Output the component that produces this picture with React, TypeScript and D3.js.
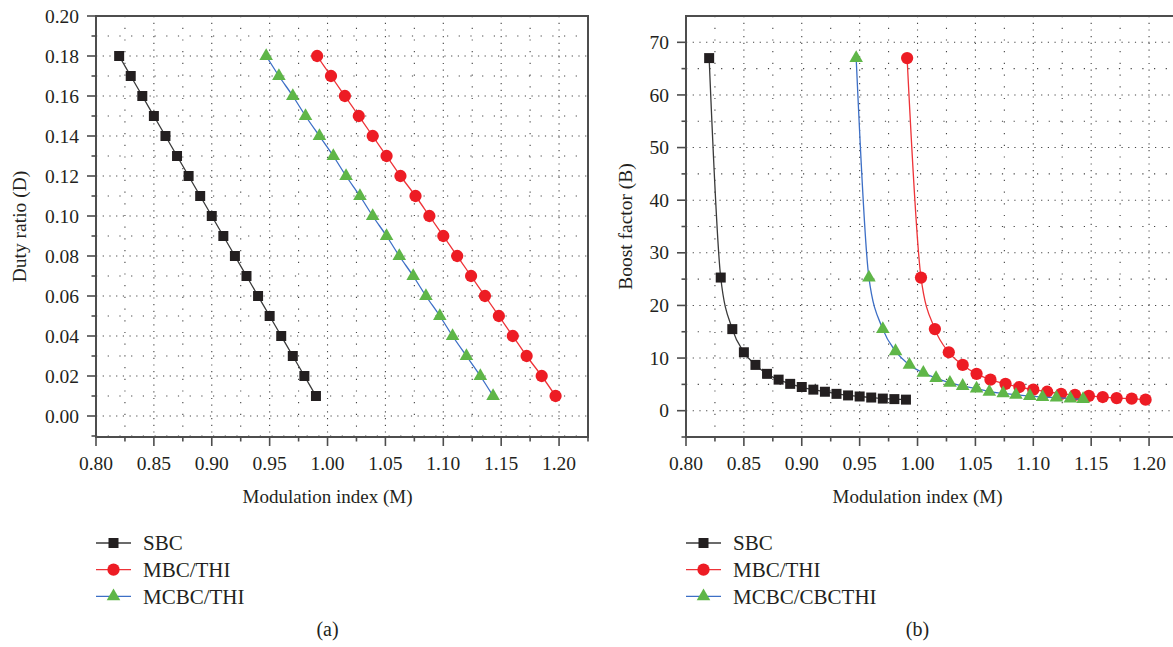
import { useEffect, useRef } from 'react'
import * as d3 from 'd3'

// values
const dutyRatio = [0.18, 0.17, 0.16, 0.15, 0.14, 0.13, 0.12, 0.11, 0.10, 0.09, 0.08, 0.07, 0.06, 0.05, 0.04, 0.03, 0.02, 0.01]
const modSBC = [0.82, 0.83, 0.84, 0.85, 0.86, 0.87, 0.88, 0.89, 0.90, 0.91, 0.92, 0.93, 0.94, 0.95, 0.96, 0.97, 0.98, 0.99]
const modMBC = [0.991, 1.003, 1.015, 1.027, 1.039, 1.051, 1.063, 1.076, 1.088, 1.100, 1.112, 1.124, 1.136, 1.148, 1.160, 1.172, 1.185, 1.197]
const modMCBC = [0.947, 0.958, 0.970, 0.981, 0.993, 1.005, 1.016, 1.028, 1.039, 1.051, 1.062, 1.074, 1.085, 1.097, 1.108, 1.120, 1.132, 1.143]

const boostSBC = [67, 25.3, 15.5, 11.1, 8.7, 7.0, 5.9, 5.1, 4.5, 4.0, 3.6, 3.2, 2.9, 2.7, 2.5, 2.3, 2.2, 2.1]
const boostMBC = [67, 25.3, 15.5, 11.1, 8.7, 7.0, 5.9, 5.1, 4.5, 4.0, 3.6, 3.2, 3.0, 2.8, 2.6, 2.4, 2.3, 2.1]
const boostMCBC = [67, 25.3, 15.5, 11.3, 8.7, 7.2, 6.2, 5.3, 4.7, 4.2, 3.6, 3.3, 3.0, 2.8, 2.6, 2.5, 2.3, 2.2]

const xTicks = [0.80, 0.85, 0.90, 0.95, 1.00, 1.05, 1.10, 1.15, 1.20]
const dutyTicks = [0.00, 0.02, 0.04, 0.06, 0.08, 0.10, 0.12, 0.14, 0.16, 0.18, 0.20]
const boostTicks = [0, 10, 20, 30, 40, 50, 60, 70]

const legendA = ['SBC', 'MBC/THI', 'MCBC/THI']
const legendB = ['SBC', 'MBC/THI', 'MCBC/CBCTHI']

const FONT = "'Liberation Serif', 'Times New Roman', serif"
const INK = '#231f20'
const AXIS = '#4d4d4d'

const styles = [
  { line: '#3a3a3a', fill: '#231f20', symbol: d3.symbolSquare, size: 100 },
  { line: '#ee3338', fill: '#ed1c24', symbol: d3.symbolCircle, size: 118 },
  { line: '#3d6fc6', fill: '#5fb648', symbol: d3.symbolTriangle, size: 80 },
]

function drawPanel(root, p) {
  const top = 16, bottom = 437
  const x = d3.scaleLinear().domain([0.8, 1.225]).range([p.x0, p.x1])
  const y = d3.scaleLinear().domain(p.yDomain).range([bottom, top])
  const g = root.append('g')

  // dotted grid: major lines dense, minor lines sparse
  const xMinor = xTicks.map(v => v + 0.025)
  const grid = g.append('g').attr('stroke', '#444').attr('stroke-width', 1.1)
  xTicks.slice(1).forEach(v => grid.append('line').attr('x1', x(v)).attr('x2', x(v)).attr('y1', top).attr('y2', bottom).attr('stroke-dasharray', '1.2 5.5'))
  xMinor.forEach(v => grid.append('line').attr('x1', x(v)).attr('x2', x(v)).attr('y1', top).attr('y2', bottom).attr('stroke-dasharray', '1.2 10.5'))
  p.yTicks.forEach(v => grid.append('line').attr('x1', p.x0).attr('x2', p.x1).attr('y1', y(v)).attr('y2', y(v)).attr('stroke-dasharray', '1.2 5.5'))
  p.yMinor.filter(v => v > p.yDomain[0] + 1e-9).forEach(v => grid.append('line').attr('x1', p.x0).attr('x2', p.x1).attr('y1', y(v)).attr('y2', y(v)).attr('stroke-dasharray', '1.2 10.5'))

  // series
  const line = d3.line().x(d => x(d[0])).y(d => y(d[1])).curve(d3.curveMonotoneX)
  p.series.forEach((s, i) => {
    const st = styles[i]
    const pts = s.xs.map((v, j) => [v, s.ys[j]])
    g.append('path').attr('d', line(pts)).attr('fill', 'none').attr('stroke', st.line).attr('stroke-width', 1.3)
    g.append('g').selectAll('path').data(pts).join('path')
      .attr('d', d3.symbol().type(st.symbol).size(st.size))
      .attr('transform', d => `translate(${x(d[0])},${y(d[1])})`)
      .attr('fill', st.fill)
  })

  // frame
  g.append('rect').attr('x', p.x0).attr('y', top).attr('width', p.x1 - p.x0).attr('height', bottom - top)
    .attr('fill', 'none').attr('stroke', AXIS).attr('stroke-width', 2)

  // ticks
  const tk = g.append('g').attr('stroke', AXIS).attr('stroke-width', 1.6)
  xTicks.forEach(v => tk.append('line').attr('x1', x(v)).attr('x2', x(v)).attr('y1', bottom).attr('y2', bottom + 9))
  xMinor.forEach(v => tk.append('line').attr('x1', x(v)).attr('x2', x(v)).attr('y1', bottom).attr('y2', bottom + 4.5))
  p.yTicks.forEach(v => tk.append('line').attr('x1', p.x0).attr('x2', p.x0 - 9).attr('y1', y(v)).attr('y2', y(v)))
  p.yMinor.forEach(v => tk.append('line').attr('x1', p.x0).attr('x2', p.x0 - 4.5).attr('y1', y(v)).attr('y2', y(v)))

  const txt = g.append('g').attr('font-family', FONT).attr('fill', INK)
  xTicks.forEach(v => txt.append('text').attr('x', x(v)).attr('y', 469.5).attr('text-anchor', 'middle')
    .attr('font-size', 19.5).text(d3.format('.2f')(v)))
  p.yTicks.forEach(v => txt.append('text').attr('x', p.x0 - 17).attr('y', y(v)).attr('dy', '0.34em').attr('text-anchor', 'end')
    .attr('font-size', 19.5).text(p.fmt(v)))

  const cx = (x(0.8) + x(1.2)) / 2
  txt.append('text').attr('x', cx).attr('y', 502.5).attr('text-anchor', 'middle').attr('font-size', 19).text('Modulation index (M)')
  txt.append('text').attr('transform', `translate(${p.titleX},${(top + bottom) / 2}) rotate(-90)`)
    .attr('text-anchor', 'middle').attr('font-size', 19.5).text(p.yTitle)
  txt.append('text').attr('x', cx).attr('y', 636).attr('text-anchor', 'middle').attr('font-size', 20).text(p.tag)

  // legend
  p.legend.forEach((name, i) => {
    const st = styles[i]
    const ly = 543 + i * 26.7
    g.append('line').attr('x1', p.x0).attr('x2', p.x0 + 35).attr('y1', ly).attr('y2', ly).attr('stroke', st.line).attr('stroke-width', 1.3)
    g.append('path').attr('d', d3.symbol().type(st.symbol).size(st.size)()).attr('transform', `translate(${p.x0 + 17.5},${ly})`).attr('fill', st.fill)
    txt.append('text').attr('x', p.x0 + 47).attr('y', ly).attr('dy', '0.34em').attr('font-size', 21).text(name)
  })
}

export default function App() {
  const ref = useRef(null)

  useEffect(() => {
    const svg = d3.select(ref.current)
    svg.selectAll('*').remove()

    drawPanel(svg, {
      x0: 96, x1: 588,
      yDomain: [-0.0105, 0.2],
      yTicks: dutyTicks,
      yMinor: [-0.01, 0.01, 0.03, 0.05, 0.07, 0.09, 0.11, 0.13, 0.15, 0.17, 0.19],
      fmt: d3.format('.2f'),
      yTitle: 'Duty ratio (D)',
      titleX: 26,
      tag: '(a)',
      legend: legendA,
      series: [
        { xs: modSBC, ys: dutyRatio },
        { xs: modMBC, ys: dutyRatio },
        { xs: modMCBC, ys: dutyRatio },
      ],
    })

    drawPanel(svg, {
      x0: 686, x1: 1178,
      yDomain: [-5, 75],
      yTicks: boostTicks,
      yMinor: [-5, 5, 15, 25, 35, 45, 55, 65],
      fmt: d3.format('d'),
      yTitle: 'Boost factor (B)',
      titleX: 632,
      tag: '(b)',
      legend: legendB,
      series: [
        { xs: modSBC, ys: boostSBC },
        { xs: modMBC, ys: boostMBC },
        { xs: modMCBC, ys: boostMCBC },
      ],
    })
  }, [])

  return (
    <svg ref={ref} width={1173} height={647}
      style={{ position: 'absolute', left: 0, top: 0, background: '#fff', display: 'block' }} />
  )
}
